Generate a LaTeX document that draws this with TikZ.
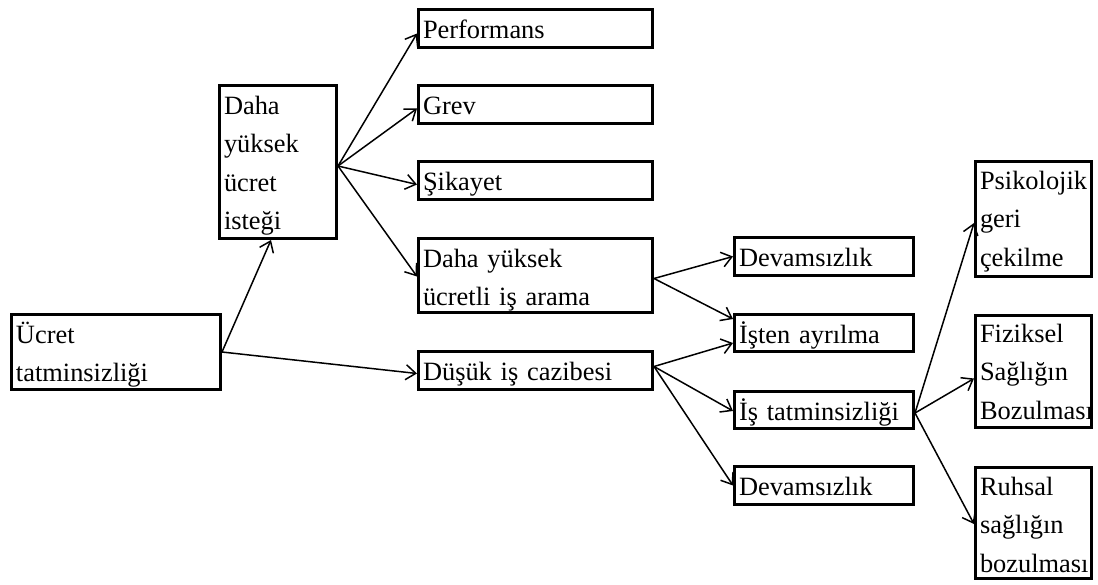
\documentclass[tikz,border=0pt]{standalone}
\usepackage{fontspec}
\setmainfont{Liberation Serif}
\usetikzlibrary{arrows.meta}
\begin{document}
\begin{tikzpicture}[x=1pt,y=-1pt,
  bx/.style={draw, line width=3pt, anchor=north west, inner xsep=4.5pt, inner ysep=0pt,
    align=left, font=\fontsize{26.4}{38.3}\selectfont},
  arr/.style={line width=1.5pt, -{Straight Barb[length=10pt,width=15pt,line width=1.5pt]}}]
\useasboundingbox (0,0) rectangle (1098,584);
% boxes
\node[bx, text width=200pt, text height=29pt, text depth=46pt] (uc) at (10,313) {Ücret\\tatminsizliği};
\node[bx, text width=108pt, text height=29pt, text depth=124pt] (dy) at (218,84) {Daha\\yüksek\\ücret\\isteği};
\node[bx, text width=225pt, text height=29pt, text depth=9pt] (perf) at (417,8) {Performans};
\node[bx, text width=225pt, text height=29pt, text depth=9pt] (grev) at (417,84) {Grev};
\node[bx, text width=225pt, text height=29pt, text depth=9pt] (sik) at (417,160) {Şikayet};
\node[bx, text width=225pt, text height=29pt, text depth=45pt] (dyu) at (417,237) {Daha yüksek\\ücretli iş arama};
\node[bx, text width=225pt, text height=29pt, text depth=9pt] (dus) at (417,350) {Düşük iş cazibesi};
\node[bx, text width=170pt, text height=29pt, text depth=9pt] (dev1) at (733,236) {Devamsızlık};
\node[bx, text width=170pt, text height=29pt, text depth=8pt] (ist) at (733,313) {İşten ayrılma};
\node[bx, text width=170pt, text height=29pt, text depth=8pt] (ist2) at (733,390) {İş tatminsizliği};
\node[bx, text width=170pt, text height=29pt, text depth=9pt] (dev2) at (733,465) {Devamsızlık};
\node[bx, text width=107pt, text height=28pt, text depth=87pt] (psi) at (974,160) {Psikolojik\\geri\\çekilme};
\node[bx, text width=107pt, text height=27pt, text depth=85pt] (fiz) at (974,314) {Fiziksel\\Sağlığın\\Bozulması};
\node[bx, text width=107pt, text height=28pt, text depth=83pt] (ruh) at (974,466) {Ruhsal\\sağlığın\\bozulması};
% connectors
\draw[arr] (uc.east) -- ([xshift=-7pt]dy.south);
\draw[arr] (uc.east) -- ([yshift=-3pt]dus.west);
\draw[arr] ([yshift=-4pt]dy.east) -- ([yshift=-5pt]perf.west);
\draw[arr] ([yshift=-4pt]dy.east) -- ([yshift=-4pt]grev.west);
\draw[arr] ([yshift=-4pt]dy.east) -- ([yshift=-4pt]sik.west);
\draw[arr] ([yshift=-4pt]dy.east) -- ([yshift=-1pt]dyu.west);
\draw[arr] ([yshift=-3pt]dyu.east) -- (dev1.west);
\draw[arr] ([yshift=-3pt]dyu.east) -- ([yshift=14pt]ist.west);
\draw[arr] ([yshift=4pt]dus.east) -- ([yshift=-10pt]ist.west);
\draw[arr] ([yshift=4pt]dus.east) -- ([yshift=-1pt]ist2.west);
\draw[arr] ([yshift=4pt]dus.east) -- (dev2.west);
\draw[arr] ([yshift=-3pt]ist2.east) -- ([yshift=-4pt]psi.west);
\draw[arr] ([yshift=-3pt]ist2.east) -- ([yshift=-7pt]fiz.west);
\draw[arr] ([yshift=-3pt]ist2.east) -- ([yshift=-1pt]ruh.west);
\end{tikzpicture}
\end{document}
